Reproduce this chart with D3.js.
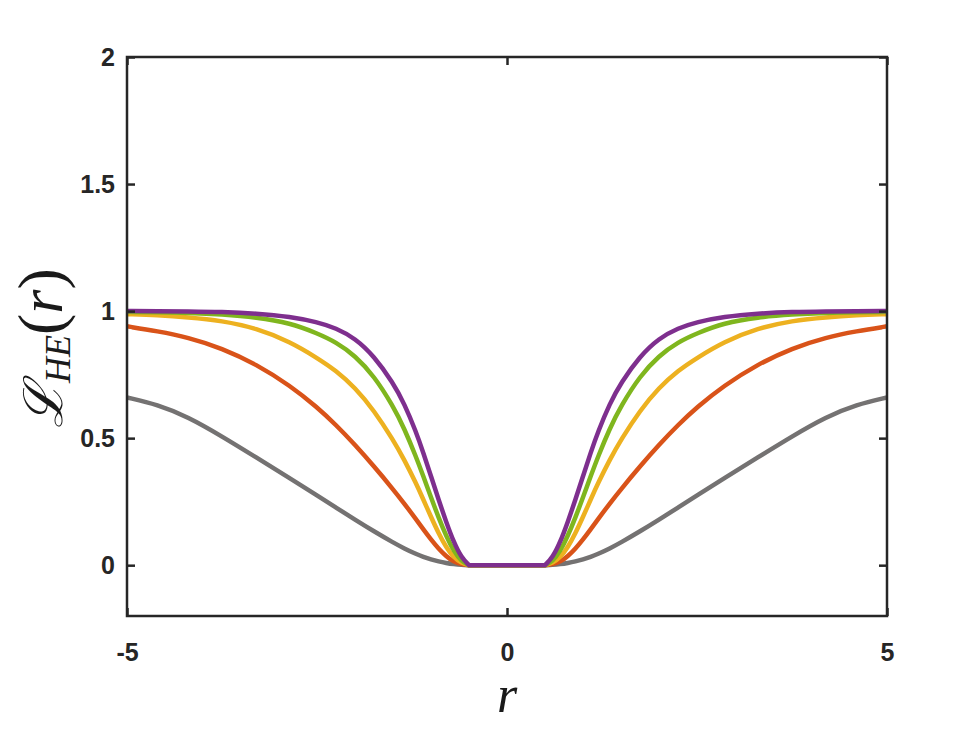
<!DOCTYPE html>
<html>
<head>
<meta charset="utf-8">
<script src="https://cdn.jsdelivr.net/npm/d3@7"></script>
<style>
  html, body { margin: 0; padding: 0; background: #ffffff; }
  svg { display: block; }
</style>
</head>
<body>
<svg id="chart" width="980" height="735"></svg>
<script>
// ---- data (curves are symmetric in r) ----
const rGrid = [0.5, 0.6, 0.7, 0.8, 0.9, 1.0, 1.1, 1.2, 1.35, 1.5, 1.75, 2.0, 2.25, 2.5, 2.85, 3.3, 3.75, 4.2, 4.6, 5.0];
const grayVals   = [0, 0.001, 0.004, 0.0085, 0.0145, 0.0225, 0.0325, 0.0445, 0.0655, 0.0895, 0.133, 0.179, 0.227, 0.274, 0.341, 0.424, 0.507, 0.584, 0.632, 0.660];
const orangeVals = [0, 0.003, 0.013, 0.035, 0.065, 0.101, 0.141, 0.182, 0.242, 0.299, 0.389, 0.474, 0.552, 0.622, 0.706, 0.791, 0.854, 0.897, 0.921, 0.940];
const yellowVals = [0, 0.008, 0.030, 0.070, 0.125, 0.190, 0.258, 0.324, 0.414, 0.494, 0.609, 0.699, 0.766, 0.816, 0.879, 0.933, 0.962, 0.976, 0.984, 0.988];
const greenVals  = [0, 0.015, 0.055, 0.115, 0.187, 0.267, 0.349, 0.429, 0.537, 0.627, 0.745, 0.825, 0.878, 0.913, 0.953, 0.976, 0.987, 0.993, 0.996, 0.997];
const purpleVals = [0, 0.030, 0.090, 0.170, 0.258, 0.350, 0.442, 0.527, 0.635, 0.718, 0.823, 0.893, 0.933, 0.957, 0.978, 0.991, 0.997, 0.999, 1.000, 1.000];
const seriesNames  = ["gray", "orange", "yellow", "green", "purple"];
const seriesColors = ["#747272", "#D95319", "#EDB120", "#7FB61E", "#7E2F8E"];
const xTicks = [-5, 0, 5];
const yTicks = [0, 0.5, 1, 1.5, 2];

// ---- layout ----
const svg = d3.select("#chart");
const L = 127, R = 887, T = 57, B = 616;
const x = d3.scaleLinear().domain([-5, 5]).range([L, R]);
const y = d3.scaleLinear().domain([-0.2, 2]).range([B, T]);
const axisColor = "#262626";

svg.append("rect").attr("width", 980).attr("height", 735).attr("fill", "#fff");

// build symmetric point lists (corner at the edges of the flat part kept sharp
// by repeating that point for the B-spline)
function buildSeries(vals) {
  const left = rGrid.map((r, i) => [-r, vals[i]]).reverse();
  const right = rGrid.map((r, i) => [r, vals[i]]);
  const c0 = left[left.length - 1], c1 = right[0];
  return left.concat([c0, c0, [0, 0], [0, 0], [0, 0], c1, c1], right);
}
const allVals = [grayVals, orangeVals, yellowVals, greenVals, purpleVals];

const line = d3.line()
  .x(d => x(d[0]))
  .y(d => y(d[1]))
  .curve(d3.curveBasis);

const plot = svg.append("g");
allVals.forEach((vals, i) => {
  plot.append("path")
    .datum(buildSeries(vals))
    .attr("d", line)
    .attr("fill", "none")
    .attr("stroke", seriesColors[i])
    .attr("stroke-width", 4.5)
    .attr("stroke-linejoin", "round")
    .attr("class", "series-" + seriesNames[i]);
});

// ---- axes (box with inward ticks) ----
const tickLen = 8;
const fontTick = "bold 25px 'Liberation Sans', Arial, sans-serif";
const fmt = d => String(d);

const axB = svg.append("g").attr("transform", `translate(0,${B})`)
  .call(d3.axisBottom(x).tickValues(xTicks).tickSizeInner(-tickLen).tickSizeOuter(0).tickPadding(27).tickFormat(fmt));
const axT = svg.append("g").attr("transform", `translate(0,${T})`)
  .call(d3.axisTop(x).tickValues(xTicks).tickSizeInner(-tickLen).tickSizeOuter(0).tickFormat(""));
const axL = svg.append("g").attr("transform", `translate(${L},0)`)
  .call(d3.axisLeft(y).tickValues(yTicks).tickSizeInner(-tickLen).tickSizeOuter(0).tickPadding(12).tickFormat(fmt));
const axR = svg.append("g").attr("transform", `translate(${R},0)`)
  .call(d3.axisRight(y).tickValues(yTicks).tickSizeInner(-tickLen).tickSizeOuter(0).tickFormat(""));

[axB, axT, axL, axR].forEach(a => {
  a.select(".domain").remove();
  a.selectAll(".tick line").attr("stroke", axisColor).attr("stroke-width", 2.5);
  a.selectAll(".tick text").style("font", fontTick).attr("fill", axisColor);
});
axB.selectAll(".tick text").attr("dy", "0.71em");

svg.append("rect")
  .attr("x", L).attr("y", T).attr("width", R - L).attr("height", B - T)
  .attr("fill", "none").attr("stroke", axisColor).attr("stroke-width", 2.5);

// ---- axis labels ----
svg.append("text")
  .attr("x", 507).attr("y", 712)
  .attr("text-anchor", "middle")
  .style("font", "italic 52px 'Liberation Serif', 'DejaVu Serif', serif")
  .attr("fill", "#1a1a1a")
  .text("r");

const yl = svg.append("text")
  .attr("transform", "translate(62,428) rotate(-90)")
  .attr("text-anchor", "start")
  .style("font-family", "'Liberation Serif', 'DejaVu Serif', serif")
  .attr("fill", "#1a1a1a");
yl.append("tspan").style("font-family", "'DejaVu Serif', serif").style("font-size", "54px").style("font-style", "italic").text("ℒ");
yl.append("tspan").style("font-size", "36px").style("font-style", "italic").attr("dy", 8).text("HE");
yl.append("tspan").style("font-size", "64px").attr("dy", -8).text("(");
yl.append("tspan").style("font-size", "62px").style("font-style", "italic").text("r");
yl.append("tspan").style("font-size", "64px").text(")");
</script>
</body>
</html>
